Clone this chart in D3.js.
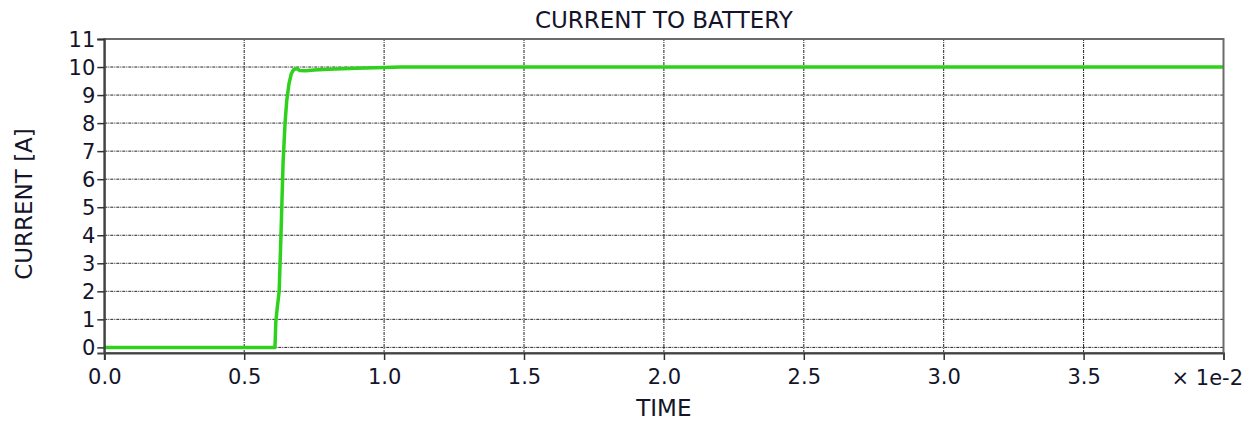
<!DOCTYPE html>
<html>
<head>
<meta charset="utf-8">
<script src="https://cdn.jsdelivr.net/npm/d3@7"></script>
<style>
  html, body { margin: 0; padding: 0; background: #fff; }
  svg { display: block; font-family: "DejaVu Sans", Verdana, sans-serif; }
</style>
</head>
<body>
<svg id="chart" width="1253" height="421"></svg>
<script>
// Time samples (in units of 1e-2 s) and battery current (A)
const timeValues = [0, 0.5, 0.61, 0.613, 0.618, 0.625, 0.632, 0.639, 0.646, 0.652, 0.66, 0.668, 0.676, 0.687, 0.699, 0.72, 0.75, 0.8, 0.9, 1.0, 1.06, 1.5, 2.0, 3.0, 4.0];
const currentValues = [0, 0, 0, 0.9, 1.4, 2.0, 4.2, 6.6, 8.0, 8.8, 9.4, 9.75, 9.9, 9.95, 9.88, 9.87, 9.89, 9.92, 9.96, 9.98, 10.0, 10.0, 10.0, 10.0, 10.0];

const xTicks = [0, 0.5, 1.0, 1.5, 2.0, 2.5, 3.0, 3.5];
const yTicks = [0, 1, 2, 3, 4, 5, 6, 7, 8, 9, 10, 11];

const titleText = "CURRENT TO BATTERY";
const xLabel = "TIME";
const yLabel = "CURRENT [A]";
const xMultiplier = "\u00d7 1e-2";

const svg = d3.select("#chart");
const W = 1253, H = 421;
const margin = { left: 104.3, right: W - 1223.5, top: 39, bottom: H - 353 };

const x = d3.scaleLinear().domain([0, 4]).range([margin.left, W - margin.right]);
const y = d3.scaleLinear().domain([-0.2, 11]).range([H - margin.bottom, margin.top]);

// dotted grid
const grid = svg.append("g").attr("class", "grid");
grid.selectAll("line.h").data(yTicks.filter(d => d < 11)).join("line")
  .attr("x1", x(0)).attr("x2", x(4))
  .attr("y1", d => y(d)).attr("y2", d => y(d))
  .attr("stroke", "#222").attr("stroke-width", 1)
  .attr("stroke-dasharray", "3,1,1,1");
grid.selectAll("line.v").data(xTicks.filter(d => d > 0)).join("line")
  .attr("y1", y(-0.2)).attr("y2", y(11))
  .attr("x1", d => x(d)).attr("x2", d => x(d))
  .attr("stroke", "#222").attr("stroke-width", 1)
  .attr("stroke-dasharray", "3,1,1,1");

// current trace
const line = d3.line().x((d, i) => x(timeValues[i])).y(d => y(d));
svg.append("path")
  .datum(currentValues)
  .attr("d", line)
  .attr("fill", "none")
  .attr("stroke", "#2ed21c")
  .attr("stroke-width", 3.5)
  .attr("stroke-linejoin", "round");

// frame
svg.append("rect")
  .attr("x", x(0)).attr("y", y(11))
  .attr("width", x(4) - x(0)).attr("height", y(-0.2) - y(11))
  .attr("fill", "none").attr("stroke", "#6b6b6b").attr("stroke-width", 2);

// axes
const xAxis = d3.axisBottom(x).tickValues(xTicks).tickFormat(d3.format(".1f")).tickSize(7).tickPadding(9);
const yAxis = d3.axisLeft(y).tickValues(yTicks).tickFormat(d3.format("d")).tickSize(7).tickPadding(2);

const gx = svg.append("g").attr("transform", `translate(0,${y(-0.2)})`).call(xAxis);
const gy = svg.append("g").attr("transform", `translate(${x(0)},0)`).call(yAxis);
[gx, gy].forEach(g => {
  g.select(".domain").attr("stroke", "#444").attr("stroke-width", 2);
  g.selectAll(".tick line").attr("stroke", "#333").attr("stroke-width", 1.5);
  g.selectAll(".tick text").attr("fill", "#14142a").style("font-size", "21px")
    .style("font-family", "'DejaVu Sans', Verdana, sans-serif");
});
gy.selectAll(".tick text").attr("dy", "0.36em");

// titles
svg.append("text").attr("x", (x(0) + x(4)) / 2).attr("y", 28)
  .attr("text-anchor", "middle").style("font-size", "23px").attr("fill", "#14142a")
  .text(titleText);
svg.append("text").attr("x", (x(0) + x(4)) / 2).attr("y", 416)
  .attr("text-anchor", "middle").style("font-size", "23px").attr("fill", "#14142a")
  .text(xLabel);
svg.append("text")
  .attr("transform", `translate(32,${(y(-0.2) + y(11)) / 2 + 8}) rotate(-90)`)
  .attr("text-anchor", "middle").style("font-size", "23px").attr("fill", "#14142a")
  .text(yLabel);
svg.append("text").attr("x", 1243).attr("y", 385)
  .attr("text-anchor", "end").style("font-size", "21px").attr("fill", "#14142a")
  .text(xMultiplier);
</script>
</body>
</html>
